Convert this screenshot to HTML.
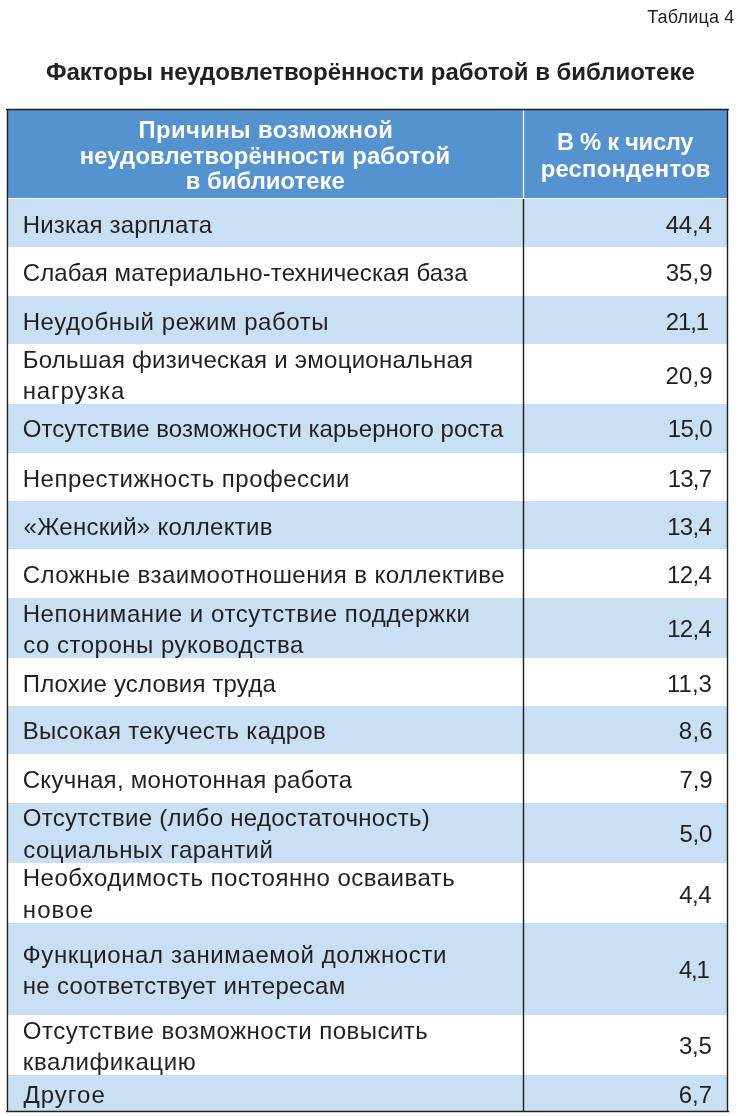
<!DOCTYPE html>
<html lang="ru"><head><meta charset="utf-8"><title>Таблица 4</title>
<style>
html,body{margin:0;padding:0;background:#fff;}
body{width:742px;height:1116px;position:relative;overflow:hidden;font-family:"Liberation Sans",sans-serif;color:#231f20;}
.bg{position:absolute;left:8px;width:719px;}
.ln{position:absolute;background:#231f20;}
span{position:absolute;white-space:nowrap;}
.t{font-size:24px;line-height:24px;}
.h{font-size:23.8px;line-height:23.8px;font-weight:bold;color:#fff;}
.ttl{font-size:24px;line-height:24px;font-weight:bold;}
.cap{font-size:18px;line-height:18px;}
</style></head><body>
<div class="bg" style="top:110px;height:88px;background:#5493d0"></div>
<div class="bg" style="top:199px;height:48px;background:#c9dff4"></div>
<div class="bg" style="top:296px;height:48px;background:#c9dff4"></div>
<div class="bg" style="top:404px;height:49px;background:#c9dff4"></div>
<div class="bg" style="top:501px;height:48px;background:#c9dff4"></div>
<div class="bg" style="top:598px;height:60px;background:#c9dff4"></div>
<div class="bg" style="top:706px;height:48px;background:#c9dff4"></div>
<div class="bg" style="top:803px;height:60px;background:#c9dff4"></div>
<div class="bg" style="top:923px;height:92px;background:#c9dff4"></div>
<div class="bg" style="top:1075px;height:36px;background:#c9dff4"></div>
<svg width="742" height="1116" viewBox="0 0 742 1116" style="position:absolute;left:0;top:0" fill="none">
<line x1="523.5" y1="110" x2="523.5" y2="198.5" stroke="#fff" stroke-width="1.3"/>
<line x1="8" y1="198.45" x2="727" y2="198.45" stroke="#fff" stroke-width="1.1"/>
<g stroke="#231f20" stroke-width="1.4">
<line x1="6.1" y1="109.5" x2="728.9" y2="109.5"/>
<line x1="6.1" y1="1111.45" x2="729.2" y2="1111.45"/>
<line x1="7.45" y1="109.5" x2="7.45" y2="1111.45"/>
<line x1="727.5" y1="109.5" x2="727.5" y2="1111.45"/>
<line x1="523.5" y1="199.1" x2="523.5" y2="1111"/>
</g></svg>
<span class="cap" style="top:8.06px;letter-spacing:0.191px;left:647.21px;">Таблица 4</span>
<span class="ttl" style="top:59.98px;letter-spacing:-0.009px;left:45.99px;">Факторы неудовлетворённости работой в библиотеке</span>
<span class="h" style="top:118.15px;letter-spacing:0.420px;left:138.57px;">Причины возможной</span>
<span class="h" style="top:144.15px;letter-spacing:0.180px;left:79.64px;">неудовлетворённости работой</span>
<span class="h" style="top:169.15px;letter-spacing:0.074px;left:185.64px;">в библиотеке</span>
<span class="h" style="top:130.15px;letter-spacing:-0.321px;left:556.96px;">В % к числу</span>
<span class="h" style="top:157.15px;letter-spacing:0.227px;left:540.67px;">респондентов</span>
<span class="t" style="top:212.98px;letter-spacing:0.152px;left:22.71px;">Низкая зарплата</span>
<span class="t" style="top:260.98px;letter-spacing:0.136px;left:22.73px;">Слабая материально-техническая база</span>
<span class="t" style="top:309.98px;letter-spacing:0.572px;left:22.71px;">Неудобный режим работы</span>
<span class="t" style="top:347.98px;letter-spacing:0.248px;left:22.77px;">Большая физическая и эмоциональная</span>
<span class="t" style="top:378.98px;letter-spacing:0.806px;left:22.79px;">нагрузка</span>
<span class="t" style="top:416.98px;letter-spacing:0.025px;left:22.80px;">Отсутствие возможности карьерного роста</span>
<span class="t" style="top:466.98px;letter-spacing:0.496px;left:22.77px;">Непрестижность профессии</span>
<span class="t" style="top:514.98px;letter-spacing:0.269px;left:23.59px;">«Женский» коллектив</span>
<span class="t" style="top:562.98px;letter-spacing:0.454px;left:22.73px;">Сложные взаимоотношения в коллективе</span>
<span class="t" style="top:601.98px;letter-spacing:0.577px;left:22.71px;">Непонимание и отсутствие поддержки</span>
<span class="t" style="top:632.98px;letter-spacing:0.505px;left:23.16px;">со стороны руководства</span>
<span class="t" style="top:671.98px;letter-spacing:0.167px;left:22.74px;">Плохие условия труда</span>
<span class="t" style="top:718.98px;letter-spacing:0.323px;left:22.71px;">Высокая текучесть кадров</span>
<span class="t" style="top:767.98px;letter-spacing:0.283px;left:22.73px;">Скучная, монотонная работа</span>
<span class="t" style="top:805.98px;letter-spacing:0.295px;left:22.80px;">Отсутствие (либо недостаточность)</span>
<span class="t" style="top:837.98px;letter-spacing:0.479px;left:23.16px;">социальных гарантий</span>
<span class="t" style="top:865.98px;letter-spacing:0.491px;left:22.77px;">Необходимость постоянно осваивать</span>
<span class="t" style="top:897.98px;letter-spacing:1.121px;left:22.79px;">новое</span>
<span class="t" style="top:942.98px;letter-spacing:0.605px;left:22.50px;">Функционал занимаемой должности</span>
<span class="t" style="top:973.98px;letter-spacing:0.301px;left:22.74px;">не соответствует интересам</span>
<span class="t" style="top:1018.98px;letter-spacing:0.489px;left:22.80px;">Отсутствие возможности повысить</span>
<span class="t" style="top:1049.98px;letter-spacing:0.584px;left:22.82px;">квалификацию</span>
<span class="t" style="top:1082.98px;letter-spacing:1.006px;left:23.52px;">Другое</span>
<span class="t" style="top:212.98px;letter-spacing:-0.133px;left:665.65px;">44,4</span>
<span class="t" style="top:260.98px;letter-spacing:0.083px;left:665.69px;">35,9</span>
<span class="t" style="top:309.98px;letter-spacing:-1.120px;left:665.80px;">21,1</span>
<span class="t" style="top:363.98px;letter-spacing:0.115px;left:665.62px;">20,9</span>
<span class="t" style="top:416.98px;letter-spacing:-0.659px;left:667.78px;">15,0</span>
<span class="t" style="top:466.98px;letter-spacing:-0.760px;left:667.65px;">13,7</span>
<span class="t" style="top:514.98px;letter-spacing:-0.662px;left:667.14px;">13,4</span>
<span class="t" style="top:562.98px;letter-spacing:-0.625px;left:666.97px;">12,4</span>
<span class="t" style="top:616.98px;letter-spacing:-0.662px;left:667.14px;">12,4</span>
<span class="t" style="top:671.98px;letter-spacing:0.011px;left:666.97px;">11,3</span>
<span class="t" style="top:718.98px;letter-spacing:0.240px;left:678.81px;">8,6</span>
<span class="t" style="top:767.98px;letter-spacing:-0.141px;left:679.57px;">7,9</span>
<span class="t" style="top:821.98px;letter-spacing:-0.262px;left:679.52px;">5,0</span>
<span class="t" style="top:882.98px;letter-spacing:-0.489px;left:679.18px;">4,4</span>
<span class="t" style="top:957.98px;letter-spacing:-1.343px;left:679.10px;">4,1</span>
<span class="t" style="top:1033.98px;letter-spacing:-0.192px;left:678.97px;">3,5</span>
<span class="t" style="top:1082.98px;letter-spacing:0.015px;left:678.68px;">6,7</span>
</body></html>
